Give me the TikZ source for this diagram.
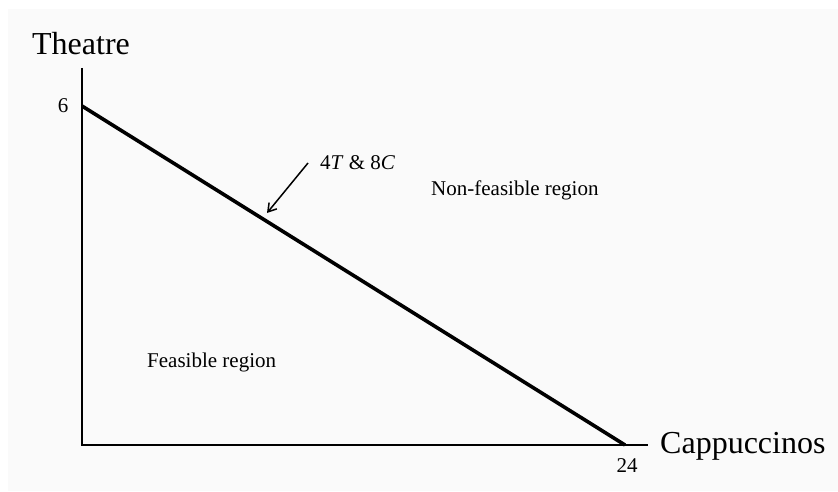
\documentclass[tikz,border=0pt]{standalone}
\usepackage{fontspec}
\setmainfont{Liberation Serif}
\usepackage{tikz}
\usetikzlibrary{
	positioning,
	arrows.meta
}

\begin{document}
\begin{tikzpicture}[x=1pt,y=1pt,
	big/.style={font=\fontsize{32}{36}\selectfont,inner sep=0pt},
	small/.style={font=\fontsize{21}{24}\selectfont,inner sep=0pt},
	axis/.style={line width=1.8pt},
	budget/.style={line width=3.6pt}]
	\useasboundingbox (0,0) rectangle (838,491);
	\fill [black!2] (8,0) rectangle (838,482);
	\coordinate (o)  at (82,46);
	\coordinate (yt) at (82,423);
	\coordinate (xr) at (648,46);
	\coordinate (t6) at (82,385);
	\coordinate (c24) at (625,46);
	\coordinate (tail) at (308,328);
	\coordinate (tip)  at (267,278);
	\draw
		node [big,anchor=base]          (theatre) at (81,436)  {Theatre}
		node [big,anchor=base west]     (capp)    at (660,38)  {Cappuccinos}
		node [small]                    (six)     at (63,385)  {6}
		node [small,anchor=base]        (tf)      at (627,19)  {24}
		node [small,anchor=base west]   (mix)     at (320,321) {4\textit{T} \& 8\textit{C}}
		node [small,anchor=base west]   (nonfeas) at (431,296) {Non-feasible region}
		node [small,anchor=base west]   (feas)    at (147,124) {Feasible region}
	;
	\draw [axis] (yt) -- (o) -- (xr);
	\draw [budget] (t6) -- (c24);
	\draw [line width=1.5pt,-{Straight Barb[length=8pt,width=10pt]}] (tail) -- (tip);
\end{tikzpicture}
\end{document}
